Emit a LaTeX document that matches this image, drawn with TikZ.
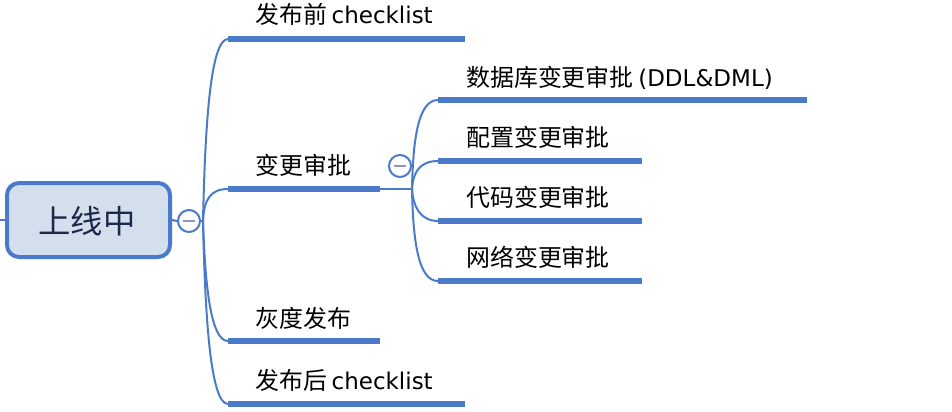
\documentclass[tikz,border=0pt]{standalone}
\usepackage{fontspec}
\setmainfont{DejaVu Sans}
\newfontfamily\cjk[Scale=1.04]{Noto Sans CJK SC}
\definecolor{lineblue}{HTML}{4A7AC9}
\definecolor{rootfill}{HTML}{D4DFEE}
\definecolor{roottext}{HTML}{1B2A48}
\definecolor{minusgray}{HTML}{8F95C0}
\tikzset{
  conn/.style={draw=lineblue, line width=1.5pt},
  uline/.style={draw=lineblue, line width=4pt},
  lbl/.style={anchor=base west, inner sep=0pt, font=\fontsize{17.25}{20}\selectfont, text=black},
  toggle/.style={circle, draw=lineblue, line width=1.5pt, fill=white, minimum size=16.5pt, inner sep=0pt},
  minusline/.style={draw=minusgray, line width=1.5pt},
}
\begin{document}
\begin{tikzpicture}[x=0.75pt,y=-0.75pt]
\useasboundingbox (0,0) rectangle (952,411);
% root
\node[draw=lineblue, line width=3pt, fill=rootfill, rounded corners=9pt,
      minimum width=122.25pt, minimum height=55.5pt, inner sep=0pt] (root) at (88.5,220) {};
\node[anchor=base, inner sep=0pt, font=\fontsize{23.3}{28}\selectfont\cjk, text=roottext] (roottxt) at (87,233) {上线中};
\coordinate (lstub) at (0,220);
\draw[conn] (lstub) -- (root.west);
% toggle 1
\node[toggle] (c1) at (189,221) {};
\draw[minusline] ([xshift=-4.5pt]c1.center) -- ([xshift=4.5pt]c1.center);
\draw[conn] (root.east) -- (c1.west);
\coordinate (h1) at (203,221);
\draw[conn] (c1.east) -- (h1);
% first-level branch coordinates
\coordinate (b1s) at (228,39);  \coordinate (b1e) at (465,39);
\coordinate (b2s) at (228,189); \coordinate (b2e) at (380,189);
\coordinate (b3s) at (228,341); \coordinate (b3e) at (380,341);
\coordinate (b4s) at (228,404); \coordinate (b4e) at (465,404);
\draw[conn] (h1) .. controls (205,130) and (210,39) .. (b1s);
\draw[conn] (h1) .. controls (204,200) and (210,189) .. (b2s);
\draw[conn] (h1) .. controls (205,281) and (210,341) .. (b3s);
\draw[conn] (h1) .. controls (205,312) and (210,404) .. (b4s);
\draw[uline] (b1s) -- (b1e);
\draw[uline] (b2s) -- (b2e);
\draw[uline] (b3s) -- (b3e);
\draw[uline] (b4s) -- (b4e);
\node[lbl] (t1) at (255,23) {{\cjk 发布前}\hspace{0.2em}checklist};
\node[lbl] (t2) at (255,174) {\cjk 变更审批};
\node[lbl] (t3) at (255,327) {\cjk 灰度发布};
\node[lbl] (t4) at (255,389) {{\cjk 发布后}\hspace{0.2em}checklist};
% toggle 2
\node[toggle] (c2) at (400,166) {};
\draw[minusline] ([xshift=-4.5pt]c2.center) -- ([xshift=4.5pt]c2.center);
\coordinate (h2) at (412,189);
\draw[conn] (b2e) -- (h2);
% second-level
\coordinate (s1s) at (438,100); \coordinate (s1e) at (807,100);
\coordinate (s2s) at (438,161); \coordinate (s2e) at (642,161);
\coordinate (s3s) at (438,221); \coordinate (s3e) at (642,221);
\coordinate (s4s) at (438,281); \coordinate (s4e) at (642,281);
\draw[conn] (h2) .. controls (413,140) and (418,100) .. (s1s);
\draw[conn] (h2) .. controls (413,172) and (420,161) .. (s2s);
\draw[conn] (h2) .. controls (413,206) and (420,221) .. (s3s);
\draw[conn] (h2) .. controls (413,240) and (418,281) .. (s4s);
\draw[uline] (s1s) -- (s1e);
\draw[uline] (s2s) -- (s2e);
\draw[uline] (s3s) -- (s3e);
\draw[uline] (s4s) -- (s4e);
\node[lbl] (u1) at (466,86) {{\cjk 数据库变更审批}\hspace{0.2em}(DDL\&DML)};
\node[lbl] (u2) at (466,146) {\cjk 配置变更审批};
\node[lbl] (u3) at (466,206) {\cjk 代码变更审批};
\node[lbl] (u4) at (466,266) {\cjk 网络变更审批};
\end{tikzpicture}
\end{document}
